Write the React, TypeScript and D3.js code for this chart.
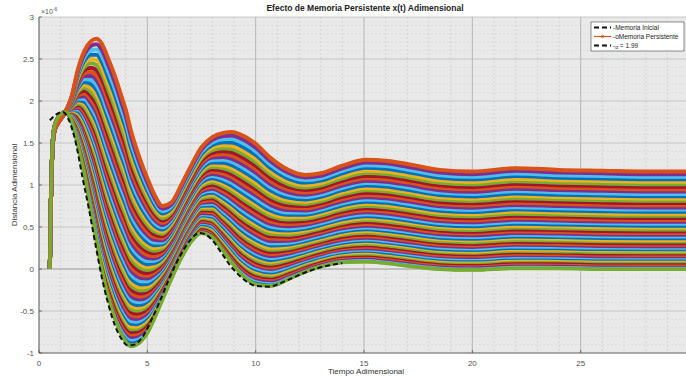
import React from "react";
import * as d3 from "d3";

// ---------- data ----------
const xs = [0.5, 0.55, 0.62, 0.7, 0.85, 1.0, 1.2, 1.5, 1.8, 2.1, 2.4, 2.65, 2.9, 3.2, 3.5, 3.8, 4.0, 4.25, 4.5, 4.7, 5.0, 5.3, 5.7, 6.1, 6.6, 7.0, 7.5, 8.0, 8.5, 8.9, 9.3, 10.0, 10.7, 11.5, 12.3, 13.0, 14.0, 15.1, 16.0, 17.0, 18.5, 20, 22, 24, 26, 28, 30];
// lowest curve (thick green, alpha = 1.99)
const bottomCurve = [0, 0.8, 1.45, 1.68, 1.79, 1.84, 1.87, 1.77, 1.48, 1.12, 0.7, 0.35, 0.0, -0.33, -0.58, -0.77, -0.86, -0.92, -0.9, -0.86, -0.76, -0.6, -0.36, -0.12, 0.15, 0.32, 0.43, 0.38, 0.22, 0.08, -0.05, -0.18, -0.2, -0.12, -0.03, 0.03, 0.08, 0.09, 0.07, 0.04, 0.0, -0.01, 0.01, 0.01, 0.0, 0.0, 0.0];
// highest curve (strongest persistent memory)
const topCurve = [0, 0.8, 1.4, 1.62, 1.72, 1.78, 1.86, 2.05, 2.38, 2.6, 2.71, 2.74, 2.68, 2.5, 2.3, 2.06, 1.9, 1.64, 1.43, 1.28, 1.08, 0.9, 0.75, 0.79, 1.02, 1.22, 1.45, 1.57, 1.62, 1.63, 1.6, 1.49, 1.32, 1.18, 1.12, 1.14, 1.23, 1.3, 1.29, 1.25, 1.18, 1.16, 1.2, 1.18, 1.17, 1.16, 1.16];
// steady levels of the family of curves, read at the right edge
const finalLevels = [0, 0.012, 0.024, 0.037, 0.05, 0.064, 0.077, 0.092, 0.106, 0.121, 0.136, 0.152, 0.168, 0.184, 0.201, 0.218, 0.235, 0.253, 0.271, 0.289, 0.308, 0.327, 0.347, 0.367, 0.387, 0.408, 0.429, 0.45, 0.472, 0.494, 0.516, 0.539, 0.562, 0.585, 0.609, 0.633, 0.658, 0.683, 0.708, 0.734, 0.76, 0.786, 0.813, 0.84, 0.867, 0.895, 0.923, 0.951, 0.98, 1.01, 1.039, 1.069, 1.099, 1.13, 1.161];
// dashed "Memoria Inicial"
const initX = [0.5, 0.8, 1.1, 1.4, 1.7, 2.0, 2.3, 2.6, 2.9, 3.2, 3.5, 3.8, 4.1, 4.4, 4.8, 5.2, 5.6, 6.0, 6.5, 7.0, 7.4, 7.9, 8.4, 8.8, 9.3, 10.0, 10.6, 11.4, 12.2, 13.0, 14.0];
const initY = [1.77, 1.84, 1.87, 1.76, 1.5, 1.1, 0.72, 0.3, -0.1, -0.42, -0.67, -0.83, -0.91, -0.9, -0.8, -0.6, -0.37, -0.12, 0.15, 0.35, 0.43, 0.37, 0.2, 0.05, -0.09, -0.2, -0.21, -0.14, -0.05, 0.02, 0.07];

const xTicks = [0, 5, 10, 15, 20, 25];
const yTicks = [-1, -0.5, 0, 0.5, 1, 1.5, 2, 2.5, 3];
const yTickLabels = ["-1", "-0.5", "0", "0.5", "1", "1.5", "2", "2.5", "3"];
const matlabColors = ["#0072BD", "#D95319", "#EDB120", "#7E2F8E", "#77AC30", "#4DBEEE", "#A2142F"];

const W = 686, H = 377;
const L = 39, R = 686, T = 17, B = 353;

export default function App() {
  const x = d3.scaleLinear().domain([0, 29.86]).range([L, R]);
  const y = d3.scaleLinear().domain([-1, 3]).range([B, T]);
  const line = d3.line<[number, number]>().x(d => x(d[0])).y(d => y(d[1])).curve(d3.curveMonotoneX);

  const topLevel = finalLevels[finalLevels.length - 1];
  const curves = finalLevels.map((lv, k) => {
    const w = lv / topLevel;
    const pts: [number, number][] = xs.map((xv, i) => [xv, bottomCurve[i] + w * (topCurve[i] - bottomCurve[i])]);
    const fromTop = finalLevels.length - 1 - k;
    const color = matlabColors[(1 + 2 * fromTop) % 7];
    return { d: line(pts) as string, color, k };
  });
  const bottomPath = line(xs.map((xv, i) => [xv, bottomCurve[i]] as [number, number])) as string;
  const initPath = line(initX.map((xv, i) => [xv, initY[i]] as [number, number])) as string;

  const minorX = d3.range(0, 30, 1).filter(v => v % 5 !== 0);
  const minorY = d3.range(-1, 3.001, 0.1).filter(v => Math.abs(v * 2 - Math.round(v * 2)) > 1e-6);

  const font = "'Liberation Sans', Arial, sans-serif";

  return (
    <svg width={W} height={H} style={{ position: "absolute", left: 0, top: 0, background: "#fff" }}>
      <defs>
        <clipPath id="plotClip">
          <rect x={L} y={T} width={R - L} height={B - T} />
        </clipPath>
      </defs>
      <rect x={L} y={T} width={R - L} height={B - T} fill="#e9e9e9" />
      {/* minor grid */}
      {minorX.map(v => (
        <line key={"mx" + v} x1={x(v)} x2={x(v)} y1={T} y2={B} stroke="#c8c8c8" strokeWidth={0.6} strokeDasharray="2,2" />
      ))}
      {minorY.map((v, i) => (
        <line key={"my" + i} x1={L} x2={R} y1={y(v)} y2={y(v)} stroke="#d2d2d2" strokeWidth={0.6} strokeDasharray="2,2" />
      ))}
      {/* major grid */}
      {xTicks.map(v => (
        <line key={"gx" + v} x1={x(v)} x2={x(v)} y1={T} y2={B} stroke="#a8a8a8" strokeWidth={0.8} />
      ))}
      {yTicks.map(v => (
        <line key={"gy" + v} x1={L} x2={R} y1={y(v)} y2={y(v)} stroke="#bdbdbd" strokeWidth={0.8} />
      ))}
      <line x1={L} x2={R} y1={y(0)} y2={y(0)} stroke="#a0a0a0" strokeWidth={0.8} />

      <g clipPath="url(#plotClip)">
        {curves.map(c => (
          <path key={c.k} d={c.d} fill="none" stroke={c.color} strokeWidth={4} strokeLinejoin="round" />
        ))}
        <path d={bottomPath} fill="none" stroke="#77AC30" strokeWidth={3.4} />
        <path d={initPath} fill="none" stroke="#111" strokeWidth={2} strokeDasharray="5,3" />
      </g>

      {/* axes */}
      <line x1={L} x2={L} y1={T} y2={B} stroke="#555" strokeWidth={0.8} />
      <line x1={L} x2={R} y1={B} y2={B} stroke="#555" strokeWidth={0.8} />
      {xTicks.map(v => (
        <g key={"xt" + v}>
          <line x1={x(v)} x2={x(v)} y1={B} y2={B - 3} stroke="#555" strokeWidth={0.8} />
          <text x={x(v)} y={366} fontSize={8} fill="#555" textAnchor="middle" fontFamily={font}>{v}</text>
        </g>
      ))}
      {yTicks.map((v, i) => (
        <g key={"yt" + v}>
          <line x1={L} x2={L + 3} y1={y(v)} y2={y(v)} stroke="#555" strokeWidth={0.8} />
          <text x={34} y={y(v) + 3} fontSize={8} fill="#555" textAnchor="end" fontFamily={font}>{yTickLabels[i]}</text>
        </g>
      ))}
      <text x={41} y={14} fontSize={7} fill="#555" fontFamily={font}>
        ×10<tspan dy={-3} fontSize={5}>-6</tspan>
      </text>

      {/* labels */}
      <text x={365} y={11} fontSize={8.5} fontWeight="bold" fill="#222" textAnchor="middle" fontFamily={font}>
        Efecto de Memoria Persistente x(t) Adimensional
      </text>
      <text x={366} y={374} fontSize={8} fill="#333" textAnchor="middle" fontFamily={font}>Tiempo Adimensional</text>
      <text transform={`translate(17,${(T + B) / 2}) rotate(-90)`} fontSize={8} fill="#333" textAnchor="middle" fontFamily={font}>
        Distancia Adimensional
      </text>

      {/* legend */}
      <g fontFamily={font} fontSize={6.5} fill="#222">
        <rect x={591} y={22} width={93} height={29} fill="#fff" stroke="#444" strokeWidth={0.6} />
        <line x1={594} x2={611} y1={27.5} y2={27.5} stroke="#111" strokeWidth={1.8} strokeDasharray="5,3" />
        <text x={613} y={30}>-Memoria Inicial</text>
        <line x1={594} x2={611} y1={36.5} y2={36.5} stroke="#D95319" strokeWidth={1.2} />
        <circle cx={602.5} cy={36.5} r={1.3} fill="none" stroke="#D95319" strokeWidth={0.8} />
        <text x={613} y={39}>-oMemoria Persistente</text>
        <line x1={594} x2={611} y1={45.5} y2={45.5} stroke="#111" strokeWidth={1.8} strokeDasharray="5,3" />
        <text x={613} y={48}>-<tspan fontSize={5} dy={1}>α</tspan><tspan dy={-1}> = 1.99</tspan></text>
      </g>
    </svg>
  );
}
